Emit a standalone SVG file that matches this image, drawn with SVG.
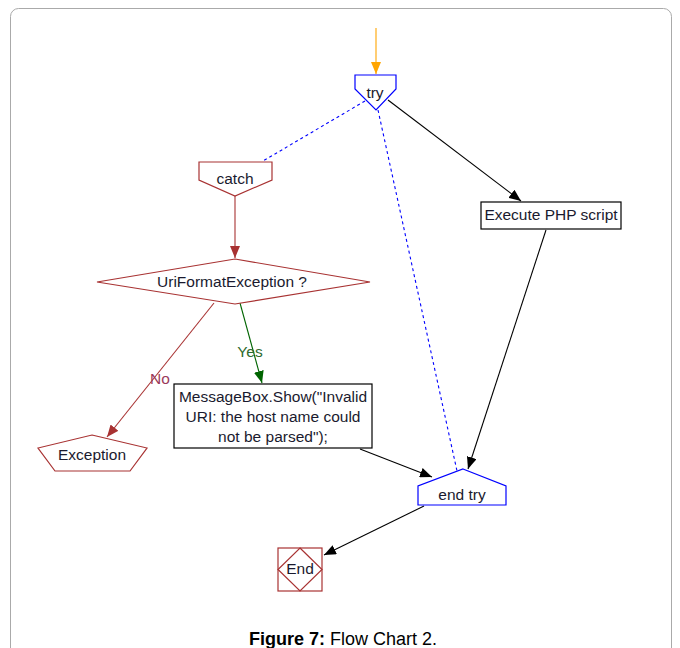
<svg xmlns="http://www.w3.org/2000/svg" width="680" height="648" viewBox="0 0 680 648">
<style>
text{font-family:"Liberation Sans",Arial,sans-serif;font-size:15.5px;fill:#1a1a2e;text-anchor:middle}
.br{fill:#fff;stroke:#a83232;stroke-width:1.2}
.bl{fill:#fff;stroke:#0000ff;stroke-width:1.2}
.bk{fill:#fff;stroke:#000;stroke-width:1.2}
.c{fill:none;stroke-width:1.1}
</style>
<defs>
<marker id="ak" viewBox="0 0 12 10" refX="12" refY="5" markerWidth="12" markerHeight="10" markerUnits="userSpaceOnUse" orient="auto"><path d="M0,0 L12,5 L0,10 z" fill="#000"/></marker>
<marker id="ab" viewBox="0 0 12 10" refX="12" refY="5" markerWidth="12" markerHeight="10" markerUnits="userSpaceOnUse" orient="auto"><path d="M0,0 L12,5 L0,10 z" fill="#a83232"/></marker>
<marker id="ag" viewBox="0 0 12 10" refX="12" refY="5" markerWidth="12" markerHeight="10" markerUnits="userSpaceOnUse" orient="auto"><path d="M0,0 L12,5 L0,10 z" fill="#006400"/></marker>
<marker id="ao" viewBox="0 0 12 10" refX="12" refY="5" markerWidth="12" markerHeight="10" markerUnits="userSpaceOnUse" orient="auto"><path d="M0,0 L12,5 L0,10 z" fill="#ffa500"/></marker>
</defs>
<rect x="0" y="0" width="680" height="648" fill="#fff"/>
<rect x="10.5" y="8.5" width="661" height="660" rx="8" fill="none" stroke="#aaa" stroke-width="1"/>
<g id="connectors">
<line class="c" x1="376" y1="28" x2="376" y2="74" stroke="#ffa500" marker-end="url(#ao)"/>
<line class="c" x1="365" y1="101" x2="263" y2="161" stroke="#0000ff" stroke-dasharray="3,3"/>
<line class="c" x1="378" y1="110" x2="457" y2="471" stroke="#0000ff" stroke-dasharray="3,3"/>
<line class="c" x1="388" y1="100" x2="521" y2="201" stroke="#000" marker-end="url(#ak)"/>
<line class="c" x1="546" y1="230" x2="468" y2="469" stroke="#000" marker-end="url(#ak)"/>
<line class="c" x1="235" y1="195" x2="235" y2="258" stroke="#a83232" marker-end="url(#ab)"/>
<line class="c" x1="214" y1="303" x2="107" y2="437" stroke="#a83232" marker-end="url(#ab)"/>
<line class="c" x1="240" y1="303" x2="262" y2="383" stroke="#006400" marker-end="url(#ag)"/>
<line class="c" x1="360" y1="449" x2="432" y2="477" stroke="#000" marker-end="url(#ak)"/>
<line class="c" x1="424" y1="506" x2="324" y2="555" stroke="#000" marker-end="url(#ak)"/>
<text x="160" y="384" style="fill:#9a3a5a">No</text>
<text x="250" y="357" style="fill:#2e6b2e">Yes</text>
</g>
<g id="try">
<polygon class="bl" points="355,75 396,75 396,89 376,110 355,89"/>
<text x="375" y="98">try</text>
</g>
<g id="catch">
<polygon class="br" points="199,162 272,162 272,180 235,196 199,180"/>
<text x="235" y="184">catch</text>
</g>
<g id="decision">
<polygon class="br" points="235,259 370,282 235,304 97,282"/>
<text x="232" y="287">UriFormatException ?</text>
</g>
<g id="exception">
<polygon class="br" points="92,435 147,448 130,471 55,471 38,448"/>
<text x="92" y="460">Exception</text>
</g>
<g id="messagebox">
<rect class="bk" x="174" y="384" width="198" height="64"/>
<text x="273" y="402">MessageBox.Show("Invalid</text>
<text x="273" y="422">URI: the host name could</text>
<text x="273" y="442">not be parsed");</text>
</g>
<g id="execute">
<rect class="bk" x="481" y="202" width="140" height="27"/>
<text x="551" y="220">Execute PHP script</text>
</g>
<g id="endtry">
<polygon class="bl" points="463,469 506,486 506,505 418,505 418,486"/>
<text x="462" y="500">end try</text>
</g>
<g id="end">
<rect class="br" x="278" y="548" width="44" height="43"/>
<polygon class="br" points="300,548 322,569.5 300,591 278,569.5" style="fill:none"/>
<text x="300" y="574">End</text>
</g>
<text x="343" y="645" style="font-size:18px;fill:#000"><tspan font-weight="bold">Figure 7:</tspan> Flow Chart 2.</text>
</svg>
